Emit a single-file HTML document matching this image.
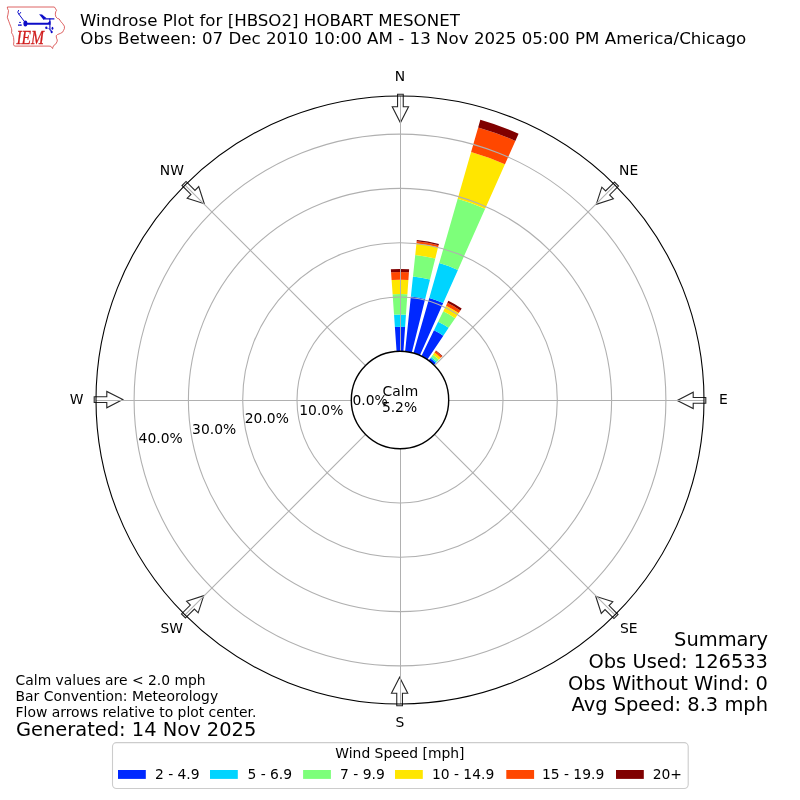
<!DOCTYPE html>
<html><head><meta charset="utf-8"><title>Windrose Plot</title>
<style>
html,body{margin:0;padding:0;background:#fff;}
svg{display:block;}
#w{will-change:transform;width:800px;height:800px;}
.s10,.s12,.s14{font-family:"DejaVu Sans","Liberation Sans",sans-serif;fill:#000;}
.s10{font-size:13.889px;}
.s12{font-size:16.667px;}
.s14{font-size:19.444px;}
</style></head><body>
<div id="w"><svg width="800" height="800" viewBox="0 0 800 800">
<rect width="800" height="800" fill="#fff"/>
<path d="M396.6 351.42L394.89 326.93A73.25 73.25 0 0 1 405.11 326.93L403.4 351.42A48.7 48.7 0 0 0 396.6 351.42Z" fill="#0028ff"/>
<path d="M394.89 326.93L394.04 314.71A85.5 85.5 0 0 1 405.96 314.71L405.11 326.93A73.25 73.25 0 0 0 394.89 326.93Z" fill="#00d4ff"/>
<path d="M394.04 314.71L392.61 294.26A106 106 0 0 1 407.39 294.26L405.96 314.71A85.5 85.5 0 0 0 394.04 314.71Z" fill="#7dff7a"/>
<path d="M392.61 294.26L391.61 280.04A120.25 120.25 0 0 1 408.39 280.04L407.39 294.26A106 106 0 0 0 392.61 294.26Z" fill="#ffe600"/>
<path d="M391.61 280.04L391.07 272.31A128 128 0 0 1 408.93 272.31L408.39 280.04A120.25 120.25 0 0 0 391.61 280.04Z" fill="#ff4700"/>
<path d="M391.07 272.31L390.86 269.32A131 131 0 0 1 409.14 269.32L408.93 272.31A128 128 0 0 0 391.07 272.31Z" fill="#800000"/>
<path d="M405.09 351.57L410.87 296.57A104 104 0 0 1 425.16 299.09L411.78 352.75A48.7 48.7 0 0 0 405.09 351.57Z" fill="#0028ff"/>
<path d="M410.87 296.57L412.98 276.48A124.2 124.2 0 0 1 430.05 279.49L425.16 299.09A104 104 0 0 0 410.87 296.57Z" fill="#00d4ff"/>
<path d="M412.98 276.48L415.24 255A145.8 145.8 0 0 1 435.27 258.53L430.05 279.49A124.2 124.2 0 0 0 412.98 276.48Z" fill="#7dff7a"/>
<path d="M415.24 255L416.44 243.56A157.3 157.3 0 0 1 438.05 247.37L435.27 258.53A145.8 145.8 0 0 0 415.24 255Z" fill="#ffe600"/>
<path d="M416.44 243.56L416.68 241.27A159.6 159.6 0 0 1 438.61 245.14L438.05 247.37A157.3 157.3 0 0 0 416.44 243.56Z" fill="#ff4700"/>
<path d="M416.68 241.27L416.81 240.08A160.8 160.8 0 0 1 438.9 243.98L438.61 245.14A159.6 159.6 0 0 0 416.68 241.27Z" fill="#800000"/>
<path d="M413.42 353.19L429.27 297.91A106.2 106.2 0 0 1 443.2 302.98L419.81 355.51A48.7 48.7 0 0 0 413.42 353.19Z" fill="#0028ff"/>
<path d="M429.27 297.91L439.25 263.12A142.4 142.4 0 0 1 457.92 269.91L443.2 302.98A106.2 106.2 0 0 0 429.27 297.91Z" fill="#00d4ff"/>
<path d="M439.25 263.12L457.69 198.81A209.3 209.3 0 0 1 485.13 208.79L457.92 269.91A142.4 142.4 0 0 0 439.25 263.12Z" fill="#7dff7a"/>
<path d="M457.69 198.81L471.11 151.99A258 258 0 0 1 504.94 164.31L485.13 208.79A209.3 209.3 0 0 0 457.69 198.81Z" fill="#ffe600"/>
<path d="M471.11 151.99L478.17 127.39A283.6 283.6 0 0 1 515.35 140.92L504.94 164.31A258 258 0 0 0 471.11 151.99Z" fill="#ff4700"/>
<path d="M478.17 127.39L480.35 119.79A291.5 291.5 0 0 1 518.56 133.7L515.35 140.92A283.6 283.6 0 0 0 478.17 127.39Z" fill="#800000"/>
<path d="M421.35 356.23L433.97 330.34A77.5 77.5 0 0 1 443.34 335.75L427.23 359.63A48.7 48.7 0 0 0 421.35 356.23Z" fill="#0028ff"/>
<path d="M433.97 330.34L438.14 321.8A87 87 0 0 1 448.65 327.87L443.34 335.75A77.5 77.5 0 0 0 433.97 330.34Z" fill="#00d4ff"/>
<path d="M438.14 321.8L443.27 311.29A98.7 98.7 0 0 1 455.19 318.17L448.65 327.87A87 87 0 0 0 438.14 321.8Z" fill="#7dff7a"/>
<path d="M443.27 311.29L446.03 305.63A105 105 0 0 1 458.72 312.95L455.19 318.17A98.7 98.7 0 0 0 443.27 311.29Z" fill="#ffe600"/>
<path d="M446.03 305.63L447.39 302.84A108.1 108.1 0 0 1 460.45 310.38L458.72 312.95A105 105 0 0 0 446.03 305.63Z" fill="#ff4700"/>
<path d="M447.39 302.84L448.35 300.86A110.3 110.3 0 0 1 461.68 308.56L460.45 310.38A108.1 108.1 0 0 0 447.39 302.84Z" fill="#800000"/>
<path d="M428.63 360.6L430.33 358.25A51.6 51.6 0 0 1 435.84 362.88L433.83 364.97A48.7 48.7 0 0 0 428.63 360.6Z" fill="#0028ff"/>
<path d="M430.33 358.25L431.27 356.96A53.2 53.2 0 0 1 436.96 361.73L435.84 362.88A51.6 51.6 0 0 0 430.33 358.25Z" fill="#00d4ff"/>
<path d="M431.27 356.96L432.92 354.7A56 56 0 0 1 438.9 359.72L436.96 361.73A53.2 53.2 0 0 0 431.27 356.96Z" fill="#7dff7a"/>
<path d="M432.92 354.7L434.44 352.59A58.6 58.6 0 0 1 440.71 357.85L438.9 359.72A56 56 0 0 0 432.92 354.7Z" fill="#ffe600"/>
<path d="M434.44 352.59L435.62 350.97A60.6 60.6 0 0 1 442.1 356.41L440.71 357.85A58.6 58.6 0 0 0 434.44 352.59Z" fill="#ff4700"/>
<path d="M435.62 350.97L435.97 350.49A61.2 61.2 0 0 1 442.51 355.98L442.1 356.41A60.6 60.6 0 0 0 435.62 350.97Z" fill="#800000"/>
<polygon points="397.55,94.2 397.55,106.8 392.25,106.8 400.4,122.8 408.55,106.8 403.25,106.8 403.25,94.2" fill="#fff" stroke="#262626" stroke-width="1.1" stroke-linejoin="miter"/>
<polygon points="614.5,182.03 605.59,190.94 601.84,187.2 596.29,204.27 613.37,198.72 609.62,194.97 618.53,186.06" fill="#fff" stroke="#262626" stroke-width="1.1" stroke-linejoin="miter"/>
<polygon points="705.8,397.55 693.2,397.55 693.2,392.25 677.2,400.4 693.2,408.55 693.2,403.25 705.8,403.25" fill="#fff" stroke="#262626" stroke-width="1.1" stroke-linejoin="miter"/>
<polygon points="617.97,614.5 609.06,605.59 612.8,601.84 595.73,596.29 601.28,613.37 605.03,609.62 613.94,618.53" fill="#fff" stroke="#262626" stroke-width="1.1" stroke-linejoin="miter"/>
<polygon points="402.45,705.8 402.45,693.2 407.75,693.2 399.6,677.2 391.45,693.2 396.75,693.2 396.75,705.8" fill="#fff" stroke="#262626" stroke-width="1.1" stroke-linejoin="miter"/>
<polygon points="185.5,617.97 194.41,609.06 198.16,612.8 203.71,595.73 186.63,601.28 190.38,605.03 181.47,613.94" fill="#fff" stroke="#262626" stroke-width="1.1" stroke-linejoin="miter"/>
<polygon points="94.2,402.45 106.8,402.45 106.8,407.75 122.8,399.6 106.8,391.45 106.8,396.75 94.2,396.75" fill="#fff" stroke="#262626" stroke-width="1.1" stroke-linejoin="miter"/>
<polygon points="182.03,185.5 190.94,194.41 187.2,198.16 204.27,203.71 198.72,186.63 194.97,190.38 186.06,181.47" fill="#fff" stroke="#262626" stroke-width="1.1" stroke-linejoin="miter"/>
<circle cx="400" cy="400" r="103" fill="none" stroke="#b0b0b0" stroke-width="1.1"/>
<circle cx="400" cy="400" r="157.3" fill="none" stroke="#b0b0b0" stroke-width="1.1"/>
<circle cx="400" cy="400" r="211.6" fill="none" stroke="#b0b0b0" stroke-width="1.1"/>
<circle cx="400" cy="400" r="265.9" fill="none" stroke="#b0b0b0" stroke-width="1.1"/>
<line x1="400.5" y1="351.3" x2="400.5" y2="96" stroke="#b0b0b0" stroke-width="1"/>
<line x1="434.44" y1="365.56" x2="614.96" y2="185.04" stroke="#b0b0b0" stroke-width="1.1"/>
<line x1="448.7" y1="400.5" x2="704" y2="400.5" stroke="#b0b0b0" stroke-width="1"/>
<line x1="434.44" y1="434.44" x2="614.96" y2="614.96" stroke="#b0b0b0" stroke-width="1.1"/>
<line x1="400.5" y1="448.7" x2="400.5" y2="704" stroke="#b0b0b0" stroke-width="1"/>
<line x1="365.56" y1="434.44" x2="185.04" y2="614.96" stroke="#b0b0b0" stroke-width="1.1"/>
<line x1="351.3" y1="400.5" x2="96" y2="400.5" stroke="#b0b0b0" stroke-width="1"/>
<line x1="365.56" y1="365.56" x2="185.04" y2="185.04" stroke="#b0b0b0" stroke-width="1.1"/>
<circle cx="400" cy="400" r="304" fill="none" stroke="#000" stroke-width="1.1"/>
<circle cx="400" cy="400" r="48.7" fill="#fff" stroke="#000" stroke-width="1.4"/>
<text x="400" y="80.98" text-anchor="middle" class="s10">N</text>
<text x="628.68" y="175" text-anchor="middle" class="s10">NE</text>
<text x="723.4" y="403.68" text-anchor="middle" class="s10">E</text>
<text x="628.68" y="633.26" text-anchor="middle" class="s10">SE</text>
<text x="400" y="727.08" text-anchor="middle" class="s10">S</text>
<text x="171.82" y="633.26" text-anchor="middle" class="s10">SW</text>
<text x="76.6" y="403.68" text-anchor="middle" class="s10">W</text>
<text x="171.82" y="175" text-anchor="middle" class="s10">NW</text>
<text x="352.5" y="404.9" class="s10">0.0%</text>
<text x="299.3" y="415" class="s10">10.0%</text>
<text x="244.8" y="423.4" class="s10">20.0%</text>
<text x="192.1" y="433.6" class="s10">30.0%</text>
<text x="138.6" y="442.5" class="s10">40.0%</text>
<text x="400.4" y="395.75" text-anchor="middle" class="s10">Calm</text>
<text x="399.5" y="411.9" text-anchor="middle" class="s10">5.2%</text>
<text x="80" y="25.9" class="s12">Windrose Plot for [HBSO2] HOBART MESONET</text>
<text x="80.3" y="43.6" class="s12" style="letter-spacing:0.012px">Obs Between: 07 Dec 2010 10:00 AM - 13 Nov 2025 05:00 PM America/Chicago</text>
<text x="15.6" y="684.9" class="s10">Calm values are &lt; 2.0 mph</text>
<text x="15.6" y="700.8" class="s10">Bar Convention: Meteorology</text>
<text x="15.6" y="716.9" class="s10">Flow arrows relative to plot center.</text>
<text x="16.0" y="735.5" class="s14">Generated: 14 Nov 2025</text>
<text x="768" y="646.1" text-anchor="end" class="s14">Summary</text>
<text x="768" y="667.5" text-anchor="end" class="s14">Obs Used: 126533</text>
<text x="768" y="689.75" text-anchor="end" class="s14">Obs Without Wind: 0</text>
<text x="768" y="711.4" text-anchor="end" class="s14">Avg Speed: 8.3 mph</text>
<rect x="112.5" y="742.6" width="575.7" height="45.9" rx="4" ry="4" fill="#fff" stroke="#cccccc" stroke-width="1.1"/>
<text x="399.9" y="757.8" text-anchor="middle" class="s10">Wind Speed [mph]</text>
<rect x="118" y="770" width="27.8" height="8.9" fill="#0028ff"/>
<text x="154.9" y="778.8" class="s10">2 - 4.9</text>
<rect x="210" y="770" width="27.8" height="8.9" fill="#00d4ff"/>
<text x="247.4" y="778.8" class="s10">5 - 6.9</text>
<rect x="303.1" y="770" width="27.8" height="8.9" fill="#7dff7a"/>
<text x="340.1" y="778.8" class="s10">7 - 9.9</text>
<rect x="395" y="770" width="27.8" height="8.9" fill="#ffe600"/>
<text x="431.9" y="778.8" class="s10">10 - 14.9</text>
<rect x="506.3" y="770" width="27.8" height="8.9" fill="#ff4700"/>
<text x="541.9" y="778.8" class="s10">15 - 19.9</text>
<rect x="616" y="770" width="27.8" height="8.9" fill="#800000"/>
<text x="652.7" y="778.8" class="s10">20+</text>

<path d="M7.3 7.0 L54.4 7.0 L55.6 8.8 L56.5 10.3 L55.7 11.8 L55.3 14.2 L55.9 16.9 L57.4 18.4 L59.2 19 L60.7 21.4 L62.8 23.8 L64.4 26.2 L64.4 28.6 L63.5 30.4 L62.6 32.2 L60.4 33.4 L57.4 34.6 L56.2 35.8 L56.5 38.2 L57.3 40 L57 41.8 L55.6 44.2 L53.8 45.4 L52.9 47.2 L52.6 48.5 L50.8 46.3 L49 46.1 L14.5 46.1 L13.6 44.8 L13.9 41.2 L13.6 37.6 L12.7 34.6 L11.5 32.8 L11.8 31 L11.5 28.6 L10.6 26.2 L9.7 23.8 L8.8 21.4 L7.9 19 L7.3 17.2 L7.9 14.8 L8.2 13 L8.5 10.6 L7.6 8.8 Z" fill="none" stroke="#d43c3c" stroke-width="0.8"/>
<g fill="#0c0cc8" stroke="#0c0cc8">
<ellipse cx="25.4" cy="23.5" rx="2.0" ry="3.0" stroke="none"/>
<path d="M25.5 22.7 L47.6 22.8 Q48.9 22.6 49.2 21.2 L50.6 21.2 L50.6 24.7 L25.5 24.8 Z" stroke="none"/>
<path d="M24.3 21.4 L18.5 13.7" stroke-width="1.0" fill="none"/>
<path d="M18.6 13.8 Q16.6 12.4 18.5 10.3 M19.3 14.2 L20.7 12.4" stroke-width="0.95" fill="none" stroke-linecap="round"/>
<path d="M49.8 18.4 L49.9 29.5 L51.6 31.6" stroke-width="1.4" fill="none" stroke-opacity="0.8"/>
<path d="M43 18.2 L54.2 18.2 Q54.9 18.85 54.2 19.5 L43 19.5 Z" stroke="none"/>
<path d="M39.1 14.3 L42.1 14.4 L46.6 18.3 L43.3 19.4 Z" stroke="none"/>
<path d="M46.3 28.0 L49.9 29.0" stroke-width="0.8" fill="none" stroke-opacity="0.6"/>
<ellipse cx="46.3" cy="27.75" rx="1.1" ry="1.3" stroke="none"/>
<ellipse cx="52.45" cy="28.35" rx="0.9" ry="1.5" stroke="none"/>
<ellipse cx="51.7" cy="32.0" rx="1.0" ry="1.2" stroke="none"/>
<ellipse cx="20.0" cy="22.4" rx="0.9" ry="0.65" stroke="none"/>
<circle cx="18.9" cy="25.1" r="0.85" stroke="none"/>
<circle cx="20.95" cy="25.1" r="0.85" stroke="none"/>
<path d="M18.9 24.6 L20.95 24.6 L20.95 25.7 L18.9 25.7 Z" stroke="none" fill-opacity="0.6"/>
</g>
<text x="16.4" y="43.9" textLength="27.6" lengthAdjust="spacingAndGlyphs" style="font-family:'Liberation Serif','DejaVu Serif',serif;font-style:italic;font-size:19.2px;fill:#d01c1c;stroke:#d01c1c;stroke-width:0.3px">IEM</text>

</svg></div>
</body></html>
